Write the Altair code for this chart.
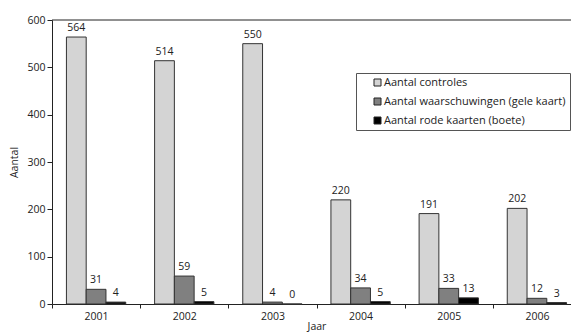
import altair as alt
import pandas as pd

# Yearly counts of checks, warnings (yellow card) and fines (red card)
jaren = ["2001", "2002", "2003", "2004", "2005", "2006"]
series = [
    "Aantal controles",
    "Aantal waarschuwingen (gele kaart)",
    "Aantal rode kaarten (boete)",
]
controles = [564, 514, 550, 220, 191, 202]
waarschuwingen = [31, 59, 4, 34, 33, 12]
rode_kaarten = [4, 5, 0, 5, 13, 3]
kleuren = ["#d4d4d4", "#808080", "#000000"]

rows = []
for i, jaar in enumerate(jaren):
    for naam, waarden in zip(series, [controles, waarschuwingen, rode_kaarten]):
        rows.append({"jaar": jaar, "serie": naam, "waarde": waarden[i]})
df = pd.DataFrame(rows)

FONT = "Open Sans"
TXT = "#222222"

x_enc = alt.X(
    "jaar:N",
    sort=jaren,
    scale=alt.Scale(range=[0, 529], paddingInner=0, paddingOuter=0),
    axis=alt.Axis(
        title="Jaar",
        labelAngle=0,
        tickBand="extent",
        tickSize=4,
        labelPadding=3,
        titlePadding=0,
        domainColor="#222222",
        tickColor="#222222",
        labelColor=TXT,
        titleColor=TXT,
        labelFontSize=10.5,
        titleFontSize=10.5,
        titleFontWeight="normal",
    ),
)
xoff_enc = alt.XOffset(
    "serie:N", sort=series, scale=alt.Scale(paddingInner=0, paddingOuter=0.73)
)
y_enc = alt.Y(
    "waarde:Q",
    scale=alt.Scale(domain=[0, 600]),
    axis=alt.Axis(
        title="Aantal",
        values=[0, 100, 200, 300, 400, 500, 600],
        grid=False,
        tickSize=5,
        labelPadding=2,
        titlePadding=7,
        domainColor="#222222",
        tickColor="#222222",
        labelColor=TXT,
        titleColor=TXT,
        labelFontSize=10.5,
        titleFontSize=10.5,
        titleFontWeight="normal",
    ),
)

bars = alt.Chart(df).mark_bar(stroke="#333333", strokeWidth=1).encode(
    x=x_enc,
    xOffset=xoff_enc,
    y=y_enc,
    color=alt.Color(
        "serie:N",
        sort=series,
        scale=alt.Scale(domain=series, range=kleuren),
        legend=alt.Legend(
            title=None,
            orient="none",
            legendX=304,
            legendY=53,
            symbolType="square",
            symbolSize=49,
            symbolStrokeColor="#222222",
            symbolStrokeWidth=1,
            symbolOffset=12,
            labelOffset=1,
            labelLimit=400,
            labelFontSize=11,
            labelColor=TXT,
            labelFont=FONT,
            rowPadding=7,
            padding=4,
            strokeColor="#555555",
            fillColor="white",
        ),
    ),
)

labels = alt.Chart(df).mark_text(
    baseline="bottom", dy=-4, fontSize=10.5, color=TXT, font=FONT
).encode(
    x=alt.X("jaar:N", sort=jaren),
    xOffset=alt.XOffset("serie:N", sort=series),
    y="waarde:Q",
    text="waarde:Q",
)

top_line = alt.Chart(pd.DataFrame({"a": [0]})).mark_rule(
    color="#222222", strokeWidth=1
).encode(x=alt.value(0), x2=alt.value(529), y=alt.value(0))

chart = (
    alt.layer(bars, labels, top_line)
    .properties(
        width=518,
        height=284,
        autosize=alt.AutoSizeParams(type="none"),
        padding={"left": 52, "top": 20, "right": 1, "bottom": 30},
    )
    .configure(font=FONT)
    .configure_view(stroke=None)
)

chart.save("out.html", embed_options={"renderer": "svg", "actions": False})
